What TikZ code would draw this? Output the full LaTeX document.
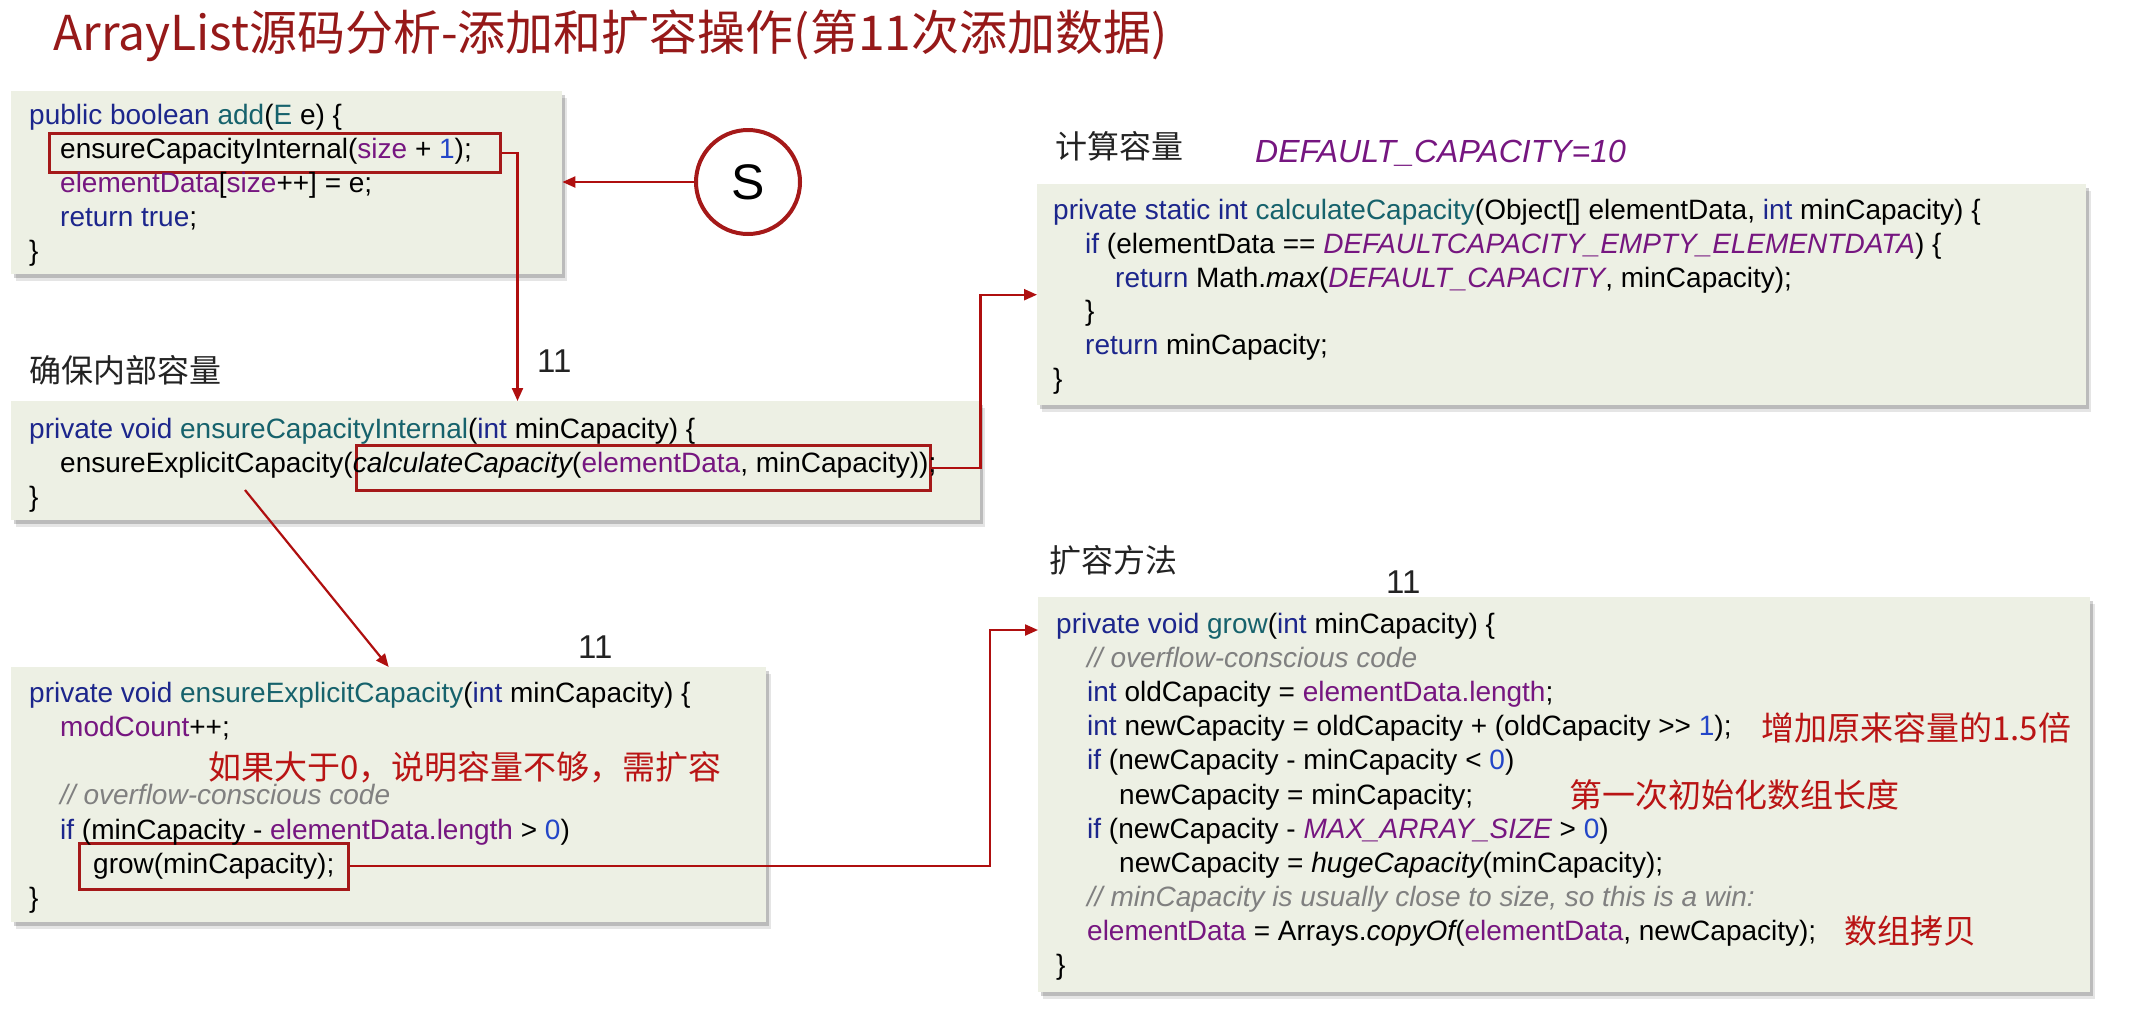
\documentclass[tikz,border=0pt]{standalone}
\usepackage{fontspec}
\setmainfont{Liberation Sans}
\newfontfamily\cjkf{Noto Sans CJK SC}
\usetikzlibrary{arrows.meta}
\definecolor{boxfill}{RGB}{237,240,228}
\definecolor{kwblue}{RGB}{28,38,140}
\definecolor{fnteal}{RGB}{22,98,108}
\definecolor{fdpurple}{RGB}{118,22,128}
\definecolor{nmblue}{RGB}{35,70,200}
\definecolor{cmgrey}{RGB}{128,128,128}
\definecolor{hlred}{RGB}{165,25,25}
\definecolor{arred}{RGB}{175,15,15}
\definecolor{notered}{RGB}{185,20,20}
\definecolor{titlered}{RGB}{150,25,25}
\definecolor{headgrey}{RGB}{35,35,35}
\newcommand\kwd[1]{\textcolor{kwblue}{#1}}
\newcommand\fnc[1]{\textcolor{fnteal}{#1}}
\newcommand\fld[1]{\textcolor{fdpurple}{#1}}
\newcommand\fldi[1]{\textcolor{fdpurple}{\itshape #1}}
\newcommand\nmb[1]{\textcolor{nmblue}{#1}}
\newcommand\cmt[1]{\textcolor{cmgrey}{\itshape #1}}
\newcommand\itl[1]{{\itshape #1}}
\newcommand\codesize{\fontsize{28pt}{33pt}\selectfont}
\tikzset{
  codebox/.style={fill=boxfill, inner sep=0pt, anchor=north west,
    preaction={fill=black, opacity=0.10, transform canvas={xshift=5pt,yshift=-7pt}},
    preaction={fill=black, opacity=0.18, transform canvas={xshift=3pt,yshift=-4pt}}},
  code/.style={anchor=base west, inner sep=0pt, font=\codesize},
  hlbox/.style={draw=hlred, line width=2.5pt, inner sep=0pt, anchor=north west},
  arr/.style={draw=arred, line width=2.2pt, -{Triangle[length=13pt,width=11pt]}},
  note/.style={anchor=base west, inner sep=0pt, text=notered, font=\cjkf\fontsize{33pt}{37pt}\selectfont},
  head/.style={anchor=base west, inner sep=0pt, text=headgrey, font=\cjkf\fontsize{32pt}{36pt}\selectfont},
  lbl/.style={anchor=base west, inner sep=0pt, text=headgrey, font=\fontsize{33pt}{37pt}\selectfont},
  dflt/.style={anchor=base west, inner sep=0pt, text=fdpurple, font=\itshape\fontsize{32pt}{36pt}\selectfont},
  titlestyle/.style={anchor=base west, inner sep=0pt, text=titlered, font=\cjkf\fontsize{48pt}{53pt}\selectfont},
  circ/.style={circle, draw=hlred, line width=4pt, fill=white, minimum size=104pt, inner sep=0pt, font=\fontsize{50pt}{54pt}\selectfont}
}
\begin{document}
\begin{tikzpicture}[x=1pt,y=-1pt]
\useasboundingbox[fill=white] (0,0) rectangle (2138,1013);

% title
\node[titlestyle] (title) at (53,50) {ArrayList源码分析-添加和扩容操作(第11次添加数据)};

% boxes
\node[codebox, minimum width=551pt, minimum height=183pt] (addbox) at (11,91) {};
\node[codebox, minimum width=969pt, minimum height=119pt] (ecibox) at (11,401) {};
\node[codebox, minimum width=1049pt, minimum height=221pt] (calcbox) at (1037,184) {};
\node[codebox, minimum width=755pt, minimum height=255pt] (eecbox) at (11,667) {};
\node[codebox, minimum width=1052pt, minimum height=395pt] (growbox) at (1038,597) {};

% highlight boxes
\node[hlbox, minimum width=451pt, minimum height=39pt] (hl1) at (48,132) {};
\node[hlbox, minimum width=574pt, minimum height=45pt] (hl2) at (355,444) {};
\node[hlbox, minimum width=269pt, minimum height=46pt] (hl3) at (78,842) {};

% add box
\node[code] (a1) at (29,124) {\kwd{public boolean} \fnc{add}(\fnc{E} e) \{};
\node[code] (a2) at (60,158) {ensureCapacityInternal(\fld{size} + \nmb{1});};
\node[code] (a3) at (60,192) {\fld{elementData}[\fld{size}++] = e;};
\node[code] (a4) at (60,226) {\kwd{return true};};
\node[code] (a5) at (29,260) {\}};

% ensureCapacityInternal box
\node[head] (h1) at (29,382) {确保内部容量};
\node[code] (b1) at (29,438) {\kwd{private void} \fnc{ensureCapacityInternal}(\kwd{int} minCapacity) \{};
\node[code] (b2) at (60,472) {ensureExplicitCapacity(\itl{calculateCapacity}(\fld{elementData}, minCapacity));};
\node[code] (b3) at (29,506) {\}};

% calculateCapacity box
\node[head] (h2) at (1055,158) {计算容量};
\node[dflt] (h2b) at (1255,162) {DEFAULT\_CAPACITY=10};
\node[code] (c1) at (1053,219) {\kwd{private static int} \fnc{calculateCapacity}(Object[] elementData, \kwd{int} minCapacity) \{};
\node[code] (c2) at (1085,253) {\kwd{if} (elementData == \fldi{DEFAULTCAPACITY\_EMPTY\_ELEMENTDATA}) \{};
\node[code] (c3) at (1115,287) {\kwd{return} Math.\itl{max}(\fldi{DEFAULT\_CAPACITY}, minCapacity);};
\node[code] (c4) at (1085,320) {\}};
\node[code] (c5) at (1085,354) {\kwd{return} minCapacity;};
\node[code] (c6) at (1053,388) {\}};

% ensureExplicitCapacity box
\node[code] (d1) at (29,702) {\kwd{private void} \fnc{ensureExplicitCapacity}(\kwd{int} minCapacity) \{};
\node[code] (d2) at (60,736) {\fld{modCount}++;};
\node[note] (d3) at (208,779) {如果大于0，说明容量不够，需扩容};
\node[code] (d4) at (60,804) {\cmt{// overflow-conscious code}};
\node[code] (d5) at (60,839) {\kwd{if} (minCapacity - \fld{elementData.length} > \nmb{0})};
\node[code] (d6) at (93,873) {grow(minCapacity);};
\node[code] (d7) at (29,907) {\}};

% grow box
\node[head] (h3) at (1049,572) {扩容方法};
\node[code] (g1) at (1056,633) {\kwd{private void} \fnc{grow}(\kwd{int} minCapacity) \{};
\node[code] (g2) at (1087,667) {\cmt{// overflow-conscious code}};
\node[code] (g3) at (1087,701) {\kwd{int} oldCapacity = \fld{elementData.length};};
\node[code] (g4) at (1087,735) {\kwd{int} newCapacity = oldCapacity + (oldCapacity >{}> \nmb{1});};
\node[code] (g5) at (1087,769) {\kwd{if} (newCapacity - minCapacity < \nmb{0})};
\node[code] (g6) at (1119,804) {newCapacity = minCapacity;};
\node[code] (g7) at (1087,838) {\kwd{if} (newCapacity - \fldi{MAX\_ARRAY\_SIZE} > \nmb{0})};
\node[code] (g8) at (1119,872) {newCapacity = \itl{hugeCapacity}(minCapacity);};
\node[code] (g9) at (1087,906) {\cmt{// minCapacity is usually close to size, so this is a win:}};
\node[code] (g10) at (1087,940) {\fld{elementData} = Arrays.\itl{copyOf}(\fld{elementData}, newCapacity);};
\node[code] (g11) at (1056,974) {\}};
\node[note] (n1) at (1761,740) {增加原来容量的1.5倍};
\node[note] (n2) at (1569,807) {第一次初始化数组长度};
\node[note] (n3) at (1844,943) {数组拷贝};

% labels 11
\node[lbl] (l1) at (537,372) {11};
\node[lbl] (l2) at (578,658) {11};
\node[lbl] (l3) at (1386,593) {11};

% start circle
\node[circ] (s) at (748,182) {S};

% connectors
\coordinate (d0) at (245,490);
\coordinate (k2) at (990,630);
\draw[arr] (s.west) -- (s.west -| addbox.east);
\draw[arr] (hl1.east) -- ++(16,0) coordinate (k1) -- (k1 |- ecibox.north);
\draw[arr] (hl2.east) -- (hl2.east -| ecibox.east) |- (calcbox.west);
\draw[arr] (d0) -- (eecbox.north);
\draw[arr] (hl3.east) -| (k2) -- (k2 -| growbox.west);
\end{tikzpicture}
\end{document}
